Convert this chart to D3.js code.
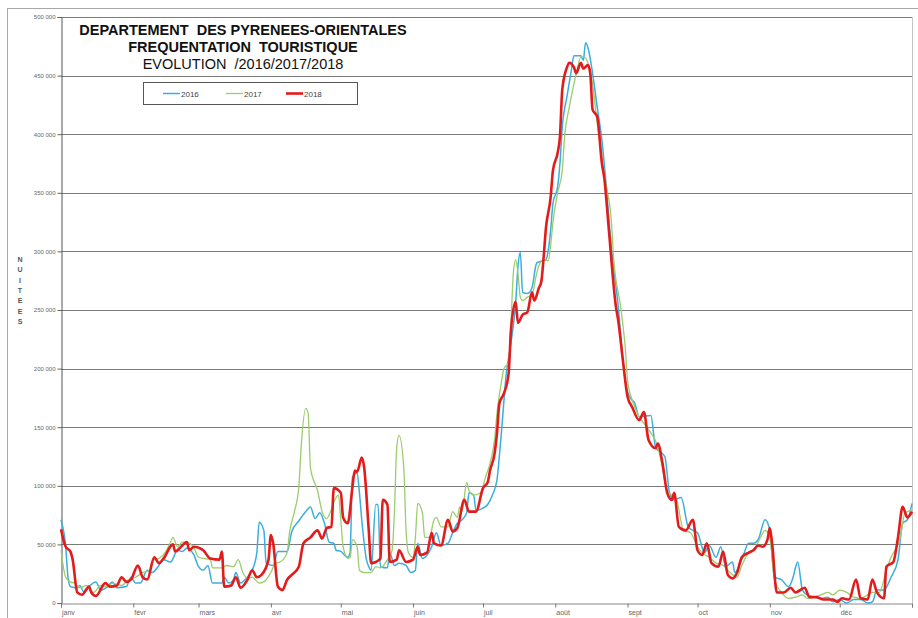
<!DOCTYPE html>
<html lang="fr">
<head>
<meta charset="utf-8">
<title>Pyrénées-Orientales : fréquentation touristique 2016/2017/2018</title>
<script src="https://d3js.org/d3.v7.min.js"></script>
<style>
	body { margin: 0; background: #fff; }
	svg text { font-family: Arial, "Liberation Sans", sans-serif; }
</style>
</head>
<body>
<script>
// taille de la fenetre
var w = 918
var h = 618

// axes
var months = ["janv", "févr", "mars", "avr", "mai", "juin", "juil", "août", "sept", "oct", "nov", "déc"]
var monthStart = [0, 31, 59, 90, 120, 151, 181, 212, 243, 273, 304, 334, 365]
var yTicks = [0, 50000, 100000, 150000, 200000, 250000, 300000, 350000, 400000, 450000, 500000]
var years = ["2016", "2017", "2018"]
var colors = ["#3aaedc", "#9ccc6c", "#e41b1b"]
var widths = [1.5, 1.3, 2.6]

// nuitees par jour de l'annee : [jour, milliers]
var s2016 = [[0,71],[2,48],[3,22],[4,14],[7,13],[8,15],[10,9],[12,14],[15,18],[17,11],[20,14],[22,18],[24,13],[28,14],[30,22],[32,17],[34,17],[37,28],[39,26],[42,32],[44,37],[47,35],[50,45],[52,44],[54,47],[57,41],[59,31],[61,28],[63,32],[65,17],[69,17],[70,22],[72,17],[74,20],[75,26],[77,17],[79,20],[80,22],[82,28],[84,43],[85,69],[87,62],[88,34],[91,32],[93,44],[97,44],[99,61],[102,70],[105,78],[107,82],[109,72],[111,77],[113,68],[115,52],[117,51],[118,45],[120,44],[123,39],[124,43],[125,107],[127,111],[128,94],[129,71],[131,37],[132,31],[133,28],[135,84],[136,84],[137,31],[140,30],[141,43],[143,32],[145,34],[148,32],[150,26],[152,28],[153,51],[155,38],[157,41],[159,48],[161,60],[163,49],[166,51],[168,60],[170,68],[172,71],[174,77],[175,94],[177,92],[178,79],[181,81],[183,84],[185,92],[187,105],[188,125],[189,148],[191,196],[193,222],[195,256],[196,287],[197,299],[198,265],[200,264],[202,269],[204,290],[205,291],[208,293],[209,301],[210,318],[211,341],[213,355],[214,375],[215,406],[217,432],[219,456],[220,467],[223,467],[224,463],[225,478],[226,474],[228,452],[230,423],[232,395],[234,352],[236,304],[239,253],[241,207],[243,180],[245,173],[246,171],[248,159],[253,160],[255,133],[259,125],[261,94],[263,88],[266,90],[269,65],[271,62],[273,60],[276,43],[278,49],[281,39],[283,48],[285,31],[288,35],[289,26],[292,37],[295,51],[297,51],[299,54],[302,71],[304,62],[306,22],[309,20],[312,14],[314,22],[315,30],[316,35],[318,11],[320,7],[323,5],[326,4],[329,5],[331,1],[334,3],[337,0],[340,3],[343,3],[346,0],[348,1],[350,11],[353,11],[356,22],[359,37],[361,68],[363,71],[365,85]]

var s2017 = [[0,45],[2,22],[4,18],[6,17],[8,13],[11,15],[14,9],[17,15],[20,14],[22,17],[26,15],[29,20],[32,22],[35,26],[38,28],[40,37],[42,38],[45,44],[47,52],[48,56],[50,48],[52,52],[54,52],[57,47],[59,39],[61,38],[64,37],[65,30],[69,30],[71,32],[74,31],[76,37],[78,26],[80,21],[82,22],[85,17],[87,18],[90,26],[92,34],[94,35],[97,43],[98,60],[100,77],[102,99],[103,133],[105,166],[106,162],[107,115],[110,96],[112,78],[114,72],[115,75],[117,86],[119,92],[120,71],[121,48],[123,38],[124,39],[125,54],[127,48],[128,28],[130,26],[133,26],[135,31],[137,30],[140,37],[142,45],[143,77],[144,133],[145,143],[147,116],[148,62],[149,43],[151,39],[152,56],[153,85],[155,77],[156,56],[158,56],[160,71],[161,73],[163,65],[166,65],[168,78],[170,73],[171,82],[172,78],[174,103],[175,96],[177,92],[180,94],[182,107],[184,119],[186,140],[187,162],[189,190],[190,200],[192,205],[193,239],[194,281],[195,293],[196,281],[197,261],[198,258],[200,261],[202,263],[204,281],[205,288],[207,293],[209,292],[210,305],[211,325],[213,350],[215,369],[216,398],[218,423],[220,443],[221,452],[223,466],[225,465],[226,461],[228,443],[230,409],[232,380],[234,355],[236,327],[237,295],[240,253],[242,218],[243,190],[245,173],[248,159],[252,148],[256,133],[257,125],[260,96],[264,88],[267,62],[270,60],[273,48],[275,43],[278,39],[281,34],[284,32],[287,26],[290,22],[292,32],[295,43],[298,48],[300,56],[302,62],[304,56],[306,20],[309,9],[312,4],[315,5],[318,7],[320,4],[323,5],[326,7],[329,9],[331,7],[334,11],[337,9],[340,5],[343,4],[346,7],[348,9],[351,9],[354,28],[356,39],[360,56],[362,77],[365,79]]

var s2018 = [[0,63],[2,48],[4,44],[5,37],[7,9],[9,7],[12,14],[13,9],[15,6],[19,17],[21,14],[24,15],[26,22],[28,18],[30,20],[33,32],[35,22],[37,20],[40,39],[42,34],[44,38],[48,50],[49,44],[51,47],[54,52],[55,45],[57,48],[61,45],[64,38],[68,37],[69,44],[70,14],[73,15],[75,22],[77,13],[80,20],[82,28],[84,22],[86,24],[89,37],[90,58],[91,51],[93,14],[95,11],[97,20],[99,24],[102,31],[104,51],[107,56],[110,62],[112,55],[114,64],[116,65],[117,98],[120,94],[121,73],[123,68],[125,99],[126,113],[127,112],[129,124],[130,116],[132,62],[133,34],[135,35],[137,38],[138,88],[140,84],[141,35],[144,37],[145,45],[148,35],[151,37],[153,48],[154,41],[157,43],[159,60],[160,51],[163,49],[166,71],[168,61],[170,64],[173,88],[175,78],[178,78],[181,98],[183,103],[184,113],[186,128],[187,145],[188,170],[190,179],[192,196],[193,233],[195,257],[196,239],[198,246],[200,248],[202,265],[203,258],[205,269],[206,274],[207,295],[208,320],[210,346],[211,369],[213,384],[214,398],[215,438],[217,457],[218,461],[220,457],[221,452],[223,461],[224,456],[226,459],[227,452],[228,421],[230,415],[232,375],[233,363],[235,318],[238,253],[239,241],[241,207],[243,176],[245,167],[248,156],[250,163],[252,139],[255,132],[256,136],[258,119],[260,94],[262,88],[263,94],[265,65],[268,62],[271,71],[273,45],[275,41],[277,51],[279,34],[282,31],[284,44],[286,24],[288,21],[290,26],[292,39],[295,43],[297,45],[299,49],[301,48],[303,54],[304,64],[305,51],[307,9],[310,9],[313,13],[315,9],[319,13],[321,5],[324,5],[327,3],[331,3],[333,1],[335,4],[338,3],[341,20],[343,4],[346,3],[348,20],[350,9],[353,4],[354,31],[357,35],[359,56],[361,82],[363,73],[365,78]]

var allSeries = [s2016, s2017, s2018]

// scales
var xScale = d3.scaleLinear().domain([0, 365]).range([61, 912])
var yScale = d3.scaleLinear().domain([0, 500000]).range([603, 17])

var svg = d3.select("body")
			.append("svg")
			.attr("width", w)
			.attr("height", h)

// cadre exterieur
svg.append("rect")
	.attr("x", 7.5).attr("y", 8.5)
	.attr("width", 1000).attr("height", 700)
	.attr("fill", "none")
	.attr("stroke", "#a8a8a8")

// grille
svg.selectAll("line.grid")
	.data(yTicks.filter(function(d){ return d > 0 }))
	.enter()
	.append("line")
	.attr("class", "grid")
	.attr("x1", xScale(0)).attr("x2", xScale(365))
	.attr("y1", function(d){ return Math.round(yScale(d)) + 0.5 })
	.attr("y2", function(d){ return Math.round(yScale(d)) + 0.5 })
	.attr("stroke", "#7a7a7a")
	.attr("stroke-width", 1.2)

svg.append("line")
	.attr("x1", xScale(365) + 0.5).attr("x2", xScale(365) + 0.5)
	.attr("y1", yScale(500000)).attr("y2", yScale(0))
	.attr("stroke", "#c4c4c4")

// axe y
var fmt = function(d){ return d === 0 ? "0" : d3.format(",")(d).replace(/,/g, " ") }
var yAxis = svg.append("g")
	.attr("transform", "translate(61.5,0)")
	.call(d3.axisLeft(yScale).tickValues(yTicks).tickSize(4).tickPadding(2).tickFormat(fmt))
yAxis.select(".domain").attr("stroke", "#555")
yAxis.selectAll(".tick line").attr("stroke", "#666")
yAxis.selectAll("text")
	.attr("font-size", "6px")
	.attr("fill", "#666")

// axe x
var xAxis = svg.append("g")
	.attr("transform", "translate(0,603.5)")
	.call(d3.axisBottom(xScale).tickValues(monthStart).tickSize(4).tickFormat(""))
xAxis.select(".domain").attr("stroke", "#888")
xAxis.selectAll(".tick line").attr("stroke", "#777")

svg.selectAll("text.month")
	.data(months)
	.enter()
	.append("text")
	.attr("class", "month")
	.attr("x", function(d, i){ return xScale(monthStart[i]) + 1 })
	.attr("y", 615)
	.attr("font-size", "7px")
	.attr("fill", "#666")
	.text(function(d){ return d })

// NUITEES
svg.selectAll("text.unit")
	.data("NUITEES".split(""))
	.enter()
	.append("text")
	.attr("class", "unit")
	.attr("x", 20)
	.attr("y", function(d, i){ return 262 + i * 10.3 })
	.attr("text-anchor", "middle")
	.attr("font-size", "7px")
	.attr("font-weight", "bold")
	.attr("fill", "#555")
	.text(function(d){ return d })

// courbes
var line = d3.line()
	.x(function(d){ return xScale(d[0]) })
	.y(function(d){ return yScale(d[1] * 1000) })
	.curve(d3.curveMonotoneX)

svg.selectAll("path.serie")
	.data(allSeries)
	.enter()
	.append("path")
	.attr("class", "serie")
	.attr("d", line)
	.attr("fill", "none")
	.attr("stroke", function(d, i){ return colors[i] })
	.attr("stroke-width", function(d, i){ return widths[i] })
	.attr("stroke-linejoin", "round")

// titre
var titles = [
	{ t: "DEPARTEMENT  DES PYRENEES-ORIENTALES", y: 35, bold: true },
	{ t: "FREQUENTATION  TOURISTIQUE", y: 52, bold: true },
	{ t: "EVOLUTION  /2016/2017/2018", y: 69, bold: false }
]
svg.selectAll("text.title")
	.data(titles)
	.enter()
	.append("text")
	.attr("class", "title")
	.attr("x", 243)
	.attr("y", function(d){ return d.y })
	.attr("text-anchor", "middle")
	.attr("font-size", "14.5px")
	.attr("font-weight", function(d){ return d.bold ? "bold" : "normal" })
	.attr("fill", "#111")
	.style("white-space", "pre")
	.text(function(d){ return d.t })

// legende
svg.append("rect")
	.attr("x", 143.5).attr("y", 82.5)
	.attr("width", 214).attr("height", 22)
	.attr("fill", "#fff")
	.attr("stroke", "#555")

var legendX = [163, 226, 286]
var leg = svg.selectAll("g.leg")
	.data(years)
	.enter()
	.append("g")
	.attr("class", "leg")
	.attr("transform", function(d, i){ return "translate(" + legendX[i] + ",93.5)" })
leg.append("line")
	.attr("x1", 0).attr("x2", 17)
	.attr("stroke", function(d, i){ return colors[i] })
	.attr("stroke-width", function(d, i){ return widths[i] })
leg.append("text")
	.attr("x", 18).attr("y", 3)
	.attr("font-size", "8px")
	.attr("fill", "#444")
	.text(function(d){ return d })
</script>
</body>
</html>
